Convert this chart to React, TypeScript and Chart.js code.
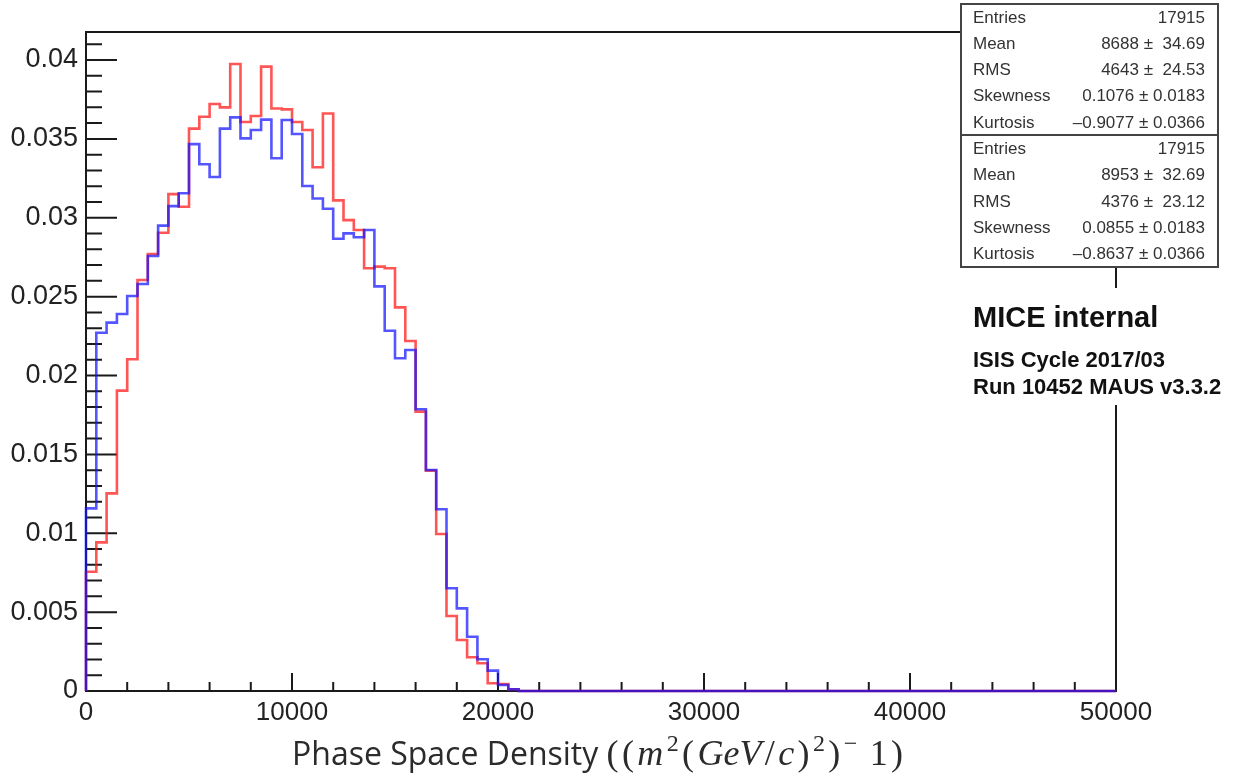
import React, { useEffect, useRef } from 'react';
import { Chart, registerables } from 'chart.js';

Chart.register(...registerables);

// Histogram binning (phase space density axis)
const BIN_WIDTH = 500;
const X_MAX = 50000;
const Y_MAX = 0.041775;

// Normalised bin contents, starting at 0; all bins above 21000 are empty
const blueBins = [
  0.01158, 0.02271, 0.02335, 0.0239, 0.02504, 0.0258, 0.02758, 0.0295, 0.03074, 0.03155,
  0.03467, 0.03339, 0.03258, 0.03565, 0.03636, 0.03503, 0.03556, 0.03622, 0.03377, 0.0362,
  0.03531, 0.03201, 0.03122, 0.03057, 0.02867, 0.02901, 0.02876, 0.02922, 0.02565, 0.02284,
  0.02109, 0.02162, 0.01786, 0.01401, 0.01152, 0.00651, 0.00524, 0.00344, 0.00201, 0.00129,
  0.00038, 0.0001,
];
const redBins = [
  0.00756, 0.00942, 0.01253, 0.01904, 0.02103, 0.02605, 0.0277, 0.02905, 0.0315, 0.0307,
  0.03565, 0.0364, 0.03721, 0.037, 0.03975, 0.03607, 0.03645, 0.03958, 0.03693, 0.03687,
  0.03607, 0.03556, 0.0332, 0.03661, 0.0311, 0.02985, 0.02922, 0.0268, 0.0269, 0.0268,
  0.02432, 0.02219, 0.01771, 0.01397, 0.00995, 0.00475, 0.00323, 0.00214, 0.00176, 0.00049,
  0.00044, 0.0001,
];

const xTicks = [0, 10000, 20000, 30000, 40000, 50000];
const xTickLabels = ['0', '10000', '20000', '30000', '40000', '50000'];
const yTicks = [0, 0.005, 0.01, 0.015, 0.02, 0.025, 0.03, 0.035, 0.04];
const yTickLabels = ['0', '0.005', '0.01', '0.015', '0.02', '0.025', '0.03', '0.035', '0.04'];
const X_MINOR_STEP = 2000;
const Y_MINOR_STEP = 0.001;

const statNames = ['Entries', 'Mean', 'RMS', 'Skewness', 'Kurtosis'];
const statsBlue = ['17915', '8688 \u00b1  34.69', '4643 \u00b1  24.53', '0.1076 \u00b1 0.0183', '\u20130.9077 \u00b1 0.0366'];
const statsRed = ['17915', '8953 \u00b1  32.69', '4376 \u00b1  23.12', '0.0855 \u00b1 0.0183', '\u20130.8637 \u00b1 0.0366'];

const labelLines = ['MICE internal', 'ISIS Cycle 2017/03', 'Run 10452 MAUS v3.3.2'];

const titleText = 'Phase Space Density ';
const titleMath = [
  { t: '(', s: 'up' },
  { t: '(', s: 'up' },
  { t: 'm', s: 'it' },
  { t: '2', s: 'sup' },
  { t: '(', s: 'up' },
  { t: 'GeV', s: 'it' },
  { t: '/', s: 'up' },
  { t: 'c', s: 'it' },
  { t: ')', s: 'up' },
  { t: '2', s: 'sup' },
  { t: ')', s: 'up' },
  { t: '\u2212', s: 'sup' },
  { t: ' 1', s: 'up' },
  { t: ')', s: 'up' },
];

function histPoints(bins: number[]) {
  const pts = [{ x: 0, y: 0 }];
  bins.forEach((v, i) => pts.push({ x: i * BIN_WIDTH, y: v }));
  pts.push({ x: bins.length * BIN_WIDTH, y: 0 });
  pts.push({ x: X_MAX, y: 0 });
  return pts;
}

function drawStatsBox(ctx: CanvasRenderingContext2D, left: number, top: number, w: number, h: number, values: string[]) {
  ctx.fillStyle = '#ffffff';
  ctx.fillRect(left, top, w, h);
  ctx.strokeStyle = '#444';
  ctx.lineWidth = 2;
  ctx.strokeRect(left, top, w, h);
  ctx.font = '17px "Liberation Sans"';
  ctx.fillStyle = '#333';
  ctx.textBaseline = 'middle';
  const row = h / statNames.length;
  statNames.forEach((name, i) => {
    const cy = top + row * (i + 0.5) + 1;
    ctx.textAlign = 'left';
    ctx.fillText(name, left + 12, cy);
    ctx.textAlign = 'right';
    ctx.fillText(values[i], left + w - 13, cy);
  });
}

function segFont(s: string) {
  if (s === 'it') return 'italic 36px "Liberation Serif"';
  if (s === 'sup') return '24px "Liberation Serif"';
  return '36px "Liberation Serif"';
}

const rootStylePlugin = {
  id: 'rootStyle',
  beforeDatasetsDraw(chart: any) {
    const { ctx, chartArea: a, scales } = chart;
    const xs = scales.x;
    const ys = scales.y;
    ctx.save();
    ctx.strokeStyle = '#1a1a1a';
    ctx.lineWidth = 2;
    ctx.strokeRect(a.left, a.top, a.right - a.left, a.bottom - a.top);
    ctx.beginPath();
    for (let k = 0; k * X_MINOR_STEP <= X_MAX; k++) {
      const v = k * X_MINOR_STEP;
      const px = xs.getPixelForValue(v);
      const len = v % 10000 === 0 ? 18 : 9;
      ctx.moveTo(px, a.bottom);
      ctx.lineTo(px, a.bottom - len);
    }
    for (let k = 0; k * Y_MINOR_STEP <= Y_MAX; k++) {
      const py = ys.getPixelForValue(k * Y_MINOR_STEP);
      const len = k % 5 === 0 ? 31 : 16;
      ctx.moveTo(a.left, py);
      ctx.lineTo(a.left + len, py);
    }
    ctx.stroke();
    ctx.restore();
  },
  afterDraw(chart: any) {
    const { ctx } = chart;
    ctx.save();
    drawStatsBox(ctx, 961, 4, 257, 131, statsBlue);
    drawStatsBox(ctx, 961, 135, 257, 132, statsRed);

    // experiment label block
    ctx.fillStyle = '#ffffff';
    ctx.fillRect(962, 288, 275, 117);
    ctx.fillStyle = '#111';
    ctx.textAlign = 'left';
    ctx.textBaseline = 'alphabetic';
    ctx.font = 'bold 29px "Liberation Sans"';
    ctx.fillText(labelLines[0], 973, 327);
    ctx.font = 'bold 22px "Liberation Sans"';
    ctx.fillText(labelLines[1], 973, 367);
    ctx.fillText(labelLines[2], 973, 394);

    // x axis title: sans text followed by a TeX-style math part
    const base = 765;
    const startX = 292;
    const endX = 903;
    ctx.fillStyle = '#2b2b2b';
    ctx.font = '32px "Open Sans"';
    ctx.fillText(titleText, startX, base);
    let x = startX + ctx.measureText(titleText).width;
    let natural = 0;
    for (const seg of titleMath) {
      ctx.font = segFont(seg.s);
      natural += ctx.measureText(seg.t).width;
    }
    const gap = Math.max(0, (endX - x - natural) / (titleMath.length - 1));
    for (const seg of titleMath) {
      ctx.font = segFont(seg.s);
      const dy = seg.s === 'sup' ? -14 : 0;
      ctx.fillText(seg.t, x, base + dy);
      x += ctx.measureText(seg.t).width + gap;
    }
    ctx.restore();
  },
};

export default function App() {
  const canvasRef = useRef<HTMLCanvasElement | null>(null);

  useEffect(() => {
    if (!canvasRef.current) return;
    const chart = new Chart(canvasRef.current, {
      type: 'line',
      data: {
        datasets: [
          {
            data: histPoints(blueBins),
            borderColor: 'rgba(20, 20, 255, 0.72)',
            borderWidth: 2.6,
            stepped: 'before',
            pointRadius: 0,
            fill: false,
            clip: 6,
          },
          {
            data: histPoints(redBins),
            borderColor: 'rgba(255, 20, 20, 0.72)',
            borderWidth: 2.6,
            stepped: 'before',
            pointRadius: 0,
            fill: false,
            clip: 6,
          },
        ],
      },
      options: {
        animation: false,
        responsive: false,
        layout: { padding: { top: 32, right: 121, left: 0, bottom: 0 } },
        plugins: { legend: { display: false }, tooltip: { enabled: false }, title: { display: false } },
        scales: {
          x: {
            type: 'linear',
            min: 0,
            max: X_MAX,
            grid: { display: false, drawTicks: false },
            border: { display: false },
            ticks: {
              autoSkip: false,
              maxRotation: 0,
              padding: 6,
              color: '#222',
              font: { family: 'Liberation Sans', size: 26 },
              callback: (v: any) => {
                const i = xTicks.indexOf(Number(v));
                return i >= 0 ? xTickLabels[i] : '';
              },
            },
            afterBuildTicks: (s: any) => {
              s.ticks = xTicks.map((v) => ({ value: v }));
            },
            afterFit: (s: any) => {
              s.height = 82;
            },
          },
          y: {
            type: 'linear',
            min: 0,
            max: Y_MAX,
            grid: { display: false, drawTicks: false },
            border: { display: false },
            ticks: {
              autoSkip: false,
              padding: 8,
              color: '#222',
              font: { family: 'Liberation Sans', size: 27 },
              callback: (v: any) => {
                const i = yTicks.findIndex((t) => Math.abs(t - Number(v)) < 1e-9);
                return i >= 0 ? yTickLabels[i] : '';
              },
            },
            afterBuildTicks: (s: any) => {
              s.ticks = yTicks.map((v) => ({ value: v }));
            },
            afterFit: (s: any) => {
              s.width = 86;
            },
          },
        },
      },
      plugins: [rootStylePlugin],
    });
    return () => chart.destroy();
  }, []);

  return (
    <div style={{ position: 'absolute', left: 0, top: 0, width: 1237, height: 773, background: '#fff' }}>
      <canvas ref={canvasRef} width={1237} height={773} style={{ display: 'block' }} />
    </div>
  );
}
